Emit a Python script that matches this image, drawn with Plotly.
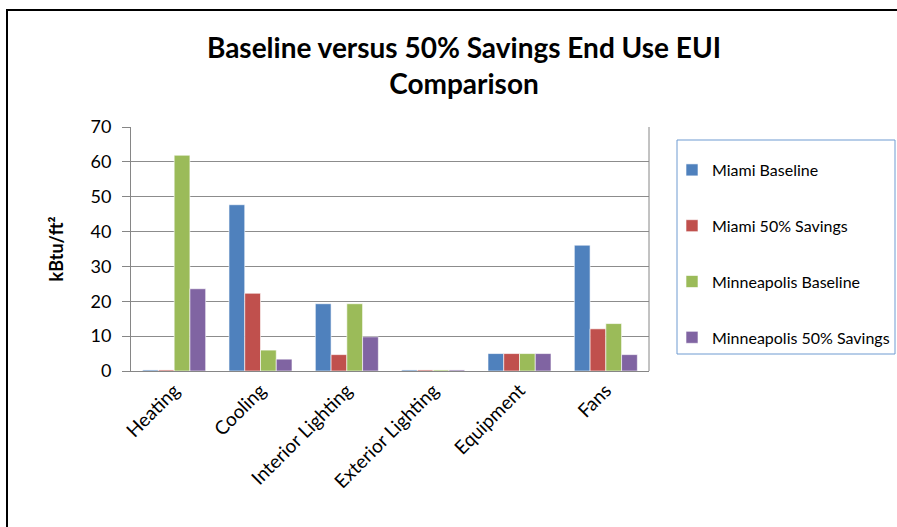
import plotly.graph_objects as go

categories = ["Heating", "Cooling", "Interior Lighting", "Exterior Lighting", "Equipment", "Fans"]
series_names = ["Miami Baseline", "Miami 50% Savings", "Minneapolis Baseline", "Minneapolis 50% Savings"]
miami_base = [0.3, 47.7, 19.3, 0.3, 5.0, 36.1]
miami_50 = [0.3, 22.3, 4.7, 0.3, 5.0, 12.1]
minn_base = [61.9, 6.0, 19.3, 0.3, 5.0, 13.6]
minn_50 = [23.6, 3.4, 9.8, 0.3, 5.0, 4.7]
colors = ["#4F81BD", "#C0504D", "#9BBB59", "#8064A2"]
y_ticks = [0, 10, 20, 30, 40, 50, 60, 70]

W, H = 897, 527
L, R, T, B = 131, 649, 127, 371
pw, ph = R - L, B - T

def px(x):
    return (x - L) / pw

def py(y):
    return (B - y) / ph

FONT = "Lato, Open Sans, sans-serif"

fig = go.Figure()
for i, (name, vals) in enumerate(zip(series_names, [miami_base, miami_50, minn_base, minn_50])):
    fig.add_trace(go.Bar(
        x=categories, y=vals, name=name, legendgroup=name,
        marker=dict(color=colors[i], line=dict(color="rgba(255,255,255,0.6)", width=1)),
    ))

fig.update_layout(
    width=W, height=H,
    margin=dict(l=L, r=W - R, t=T, b=H - B, autoexpand=False),
    paper_bgcolor="white", plot_bgcolor="white",
    barmode="group", bargap=0.27, bargroupgap=0,
    title=dict(
        text="<b>Baseline versus 50% Savings End Use EUI<br>Comparison</b>",
        x=px(464), xanchor="center", xref="paper", y=1 - 58 / H, yanchor="middle",
        font=dict(family=FONT, size=28, color="black"),
    ),
    font=dict(family=FONT, color="black"),
    xaxis=dict(
        showgrid=False, showline=True, linecolor="#868686", linewidth=1,
        tickangle=-45, tickfont=dict(size=19, color="black"),
        ticks="", mirror=False, automargin=False,
    ),
    yaxis=dict(
        range=[0, 70], tickvals=y_ticks, showgrid=True, gridcolor="#8c8c8c", gridwidth=1,
        showline=True, linecolor="#868686", linewidth=1, ticks="outside", ticklen=8,
        tickcolor="#868686", tickfont=dict(size=18, color="black"),
        ticklabelstandoff=7, automargin=False,
        title=dict(text="<b>kBtu/ft²</b>", font=dict(size=18, color="black"), standoff=22),
        zeroline=False,
    ),
    legend=dict(
        x=px(672), y=py(153), xanchor="left", yanchor="top",
        bgcolor="rgba(0,0,0,0)", borderwidth=0,
        font=dict(family=FONT, size=16, color="black"),
        tracegroupgap=32, itemwidth=30,
    ),
    showlegend=True,
)

# right border of plot area
fig.add_shape(type="line", xref="paper", yref="paper", x0=1, x1=1, y0=0, y1=1,
              line=dict(color="#868686", width=1))
# legend box
fig.add_shape(type="rect", xref="paper", yref="paper",
              x0=px(677), x1=px(895), y0=py(140), y1=py(354),
              line=dict(color="#6f9bd1", width=1), fillcolor="rgba(0,0,0,0)")
# outer chart frame (cropped at right and bottom)
fig.add_shape(type="rect", xref="paper", yref="paper",
              x0=px(7), x1=px(905), y0=py(10), y1=py(540),
              line=dict(color="black", width=2), fillcolor="rgba(0,0,0,0)")

fig.write_html("out.html")
